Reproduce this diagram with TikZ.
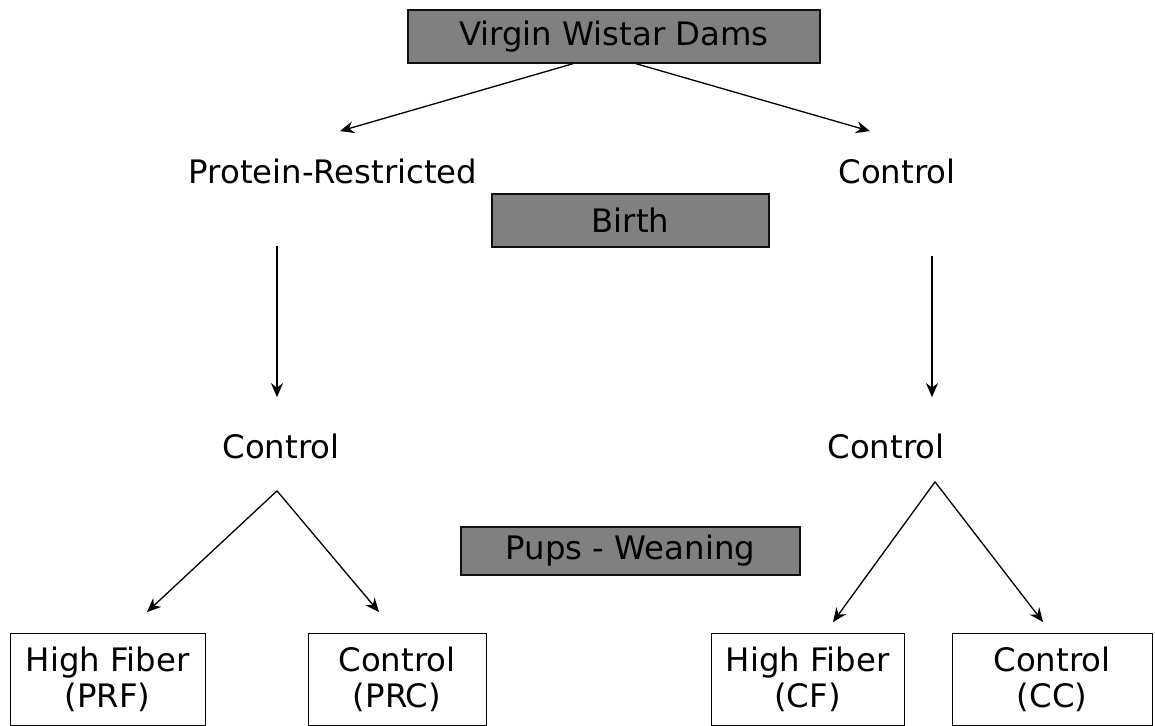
\documentclass[tikz,border=0pt]{standalone}
\usepackage{fontspec}
\setmainfont{DejaVu Sans}
\usepackage{xcolor}
\usetikzlibrary{arrows.meta,calc}
\definecolor{StageGray}{HTML}{808080}
\definecolor{Ink}{HTML}{111111}

\begin{document}
\begin{tikzpicture}[x=0.02cm,y=-0.02cm,
  stage/.style={draw=Ink,line width=0.8pt,fill=StageGray,font=\fontsize{18.4}{21}\selectfont,inner sep=0pt},
  diet/.style={font=\fontsize{18.4}{21}\selectfont,inner sep=0pt},
  group/.style={draw=black,line width=0.55pt,align=center,font=\fontsize{18.4}{20.5}\selectfont,inner sep=0pt,minimum height=1.84cm},
  link/.style={-{Stealth[length=2.8mm,width=2.4mm]},draw=black,line width=0.75pt}
]
\useasboundingbox (0,0) rectangle (1155,726);

% stages
\node[stage,minimum width=8.24cm,minimum height=1.06cm] (dams) at (614,36.5) {Virgin Wistar Dams};
\node[stage,minimum width=5.54cm,minimum height=1.06cm] (birth) at (630.5,220.5) {Birth};
\node[stage,minimum width=6.78cm,minimum height=0.96cm] (wean) at (630.5,551) {Pups - Weaning};

% maternal and lactation diets
\node[diet] (pr) at (333,171) {Protein-Restricted};
\node[diet] (ctop) at (897,171) {Control};
\node[diet] (pc) at (281,446) {Control};
\node[diet] (cc) at (886,446) {Control};

% weaned groups
\node[group,minimum width=3.9cm] (prf) at (107.5,679.5) {High Fiber\\(PRF)};
\node[group,minimum width=3.56cm] (prc) at (397,679.5) {Control\\(PRC)};
\node[group,minimum width=3.86cm] (cf) at (807.5,679.5) {High Fiber\\(CF)};
\node[group,minimum width=4.0cm] (ccg) at (1052,679.5) {Control\\(CC)};

\draw[link] ($(dams.south)+(-41,0)$) -- ($(pr.north)+(7,-27)$);
\draw[link] ($(dams.south)+(22,0)$) -- ($(ctop.north)+(-27,-27)$);
\draw[link] ($(pr.south)+(-56,62)$) -- ($(pc.north)+(-4,-36)$);
\draw[link] ($(ctop.south)+(35,72)$) -- ($(cc.north)+(46,-36)$);

\coordinate (lsplit) at ($(pc.south)+(-4,32)$);
\coordinate (rsplit) at ($(cc.south)+(49,23)$);
\draw[link] (lsplit) -- ($(prf.north)+(39.5,-21)$);
\draw[link] (lsplit) -- ($(prc.north)+(-18,-21)$);
\draw[link] (rsplit) -- ($(cf.north)+(25.5,-11)$);
\draw[link] (rsplit) -- ($(ccg.north)+(-9,-11)$);
\end{tikzpicture}
\end{document}
